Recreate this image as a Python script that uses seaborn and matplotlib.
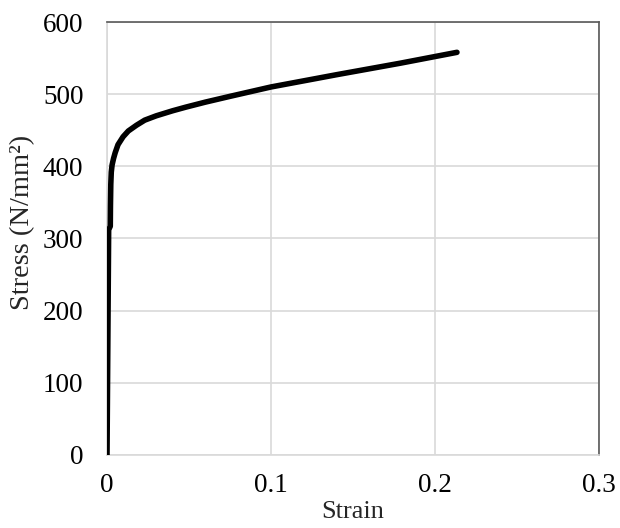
import matplotlib
matplotlib.use("Agg")
import matplotlib.pyplot as plt
import seaborn as sns
import pandas as pd

# Tensile test curve of the steel specimen
strain = [0.0, 0.0010, 0.0020, 0.0021, 0.0023, 0.0026, 0.0031, 0.0040, 0.0050,
          0.0067, 0.0098, 0.013, 0.018, 0.023, 0.030, 0.040, 0.048, 0.060,
          0.075, 0.10, 0.14, 0.179, 0.2134]
stress = [0, 312, 317, 345, 375, 392, 402, 411, 419,
          430, 441, 449, 457, 464, 470, 477, 482, 489,
          497, 510, 527, 543, 558]

x_ticks = [0, 0.1, 0.2, 0.3]
x_tick_labels = ["0", "0.1", "0.2", "0.3"]
y_ticks = [0, 100, 200, 300, 400, 500, 600]

df = pd.DataFrame({"Strain": strain, "Stress": stress})

sns.set_theme(style="white")
plt.rcParams["font.family"] = ["Liberation Serif", "DejaVu Serif"]

fig = plt.figure(figsize=(6.2, 5.28), dpi=100)
ax = fig.add_axes([0.1726, 0.1383, 0.7935, 0.8200])

sns.lineplot(data=df, x="Strain", y="Stress", sort=False, estimator=None,
             color="black", linewidth=4.0, ax=ax, zorder=3,
             solid_capstyle="round", solid_joinstyle="round")

ax.set_xlim(0, 0.3)
ax.set_ylim(0, 600)
ax.set_xticks(x_ticks)
ax.set_xticklabels(x_tick_labels)
ax.set_yticks(y_ticks)
ax.grid(True, color="#d9d9d9", linewidth=1.2)
ax.set_axisbelow(True)

for side in ["left", "bottom"]:
    ax.spines[side].set_color("#d9d9d9")
    ax.spines[side].set_linewidth(1.2)
for side in ["top", "right"]:
    ax.spines[side].set_color("#595959")
    ax.spines[side].set_linewidth(1.2)

ax.tick_params(axis="both", length=0, labelsize=19.5, colors="black")
ax.tick_params(axis="x", pad=13)
ax.tick_params(axis="y", pad=17)
ax.set_xlabel("Strain", fontsize=19)
ax.xaxis.set_label_coords(0.5, -0.106)
ax.set_ylabel("")
fig.text(23 / 620, 1 - 222 / 528, "Stress (N/mm²)", fontsize=20.5,
         rotation=90, ha="center", va="center")

fig.savefig("out.png", dpi=100)
